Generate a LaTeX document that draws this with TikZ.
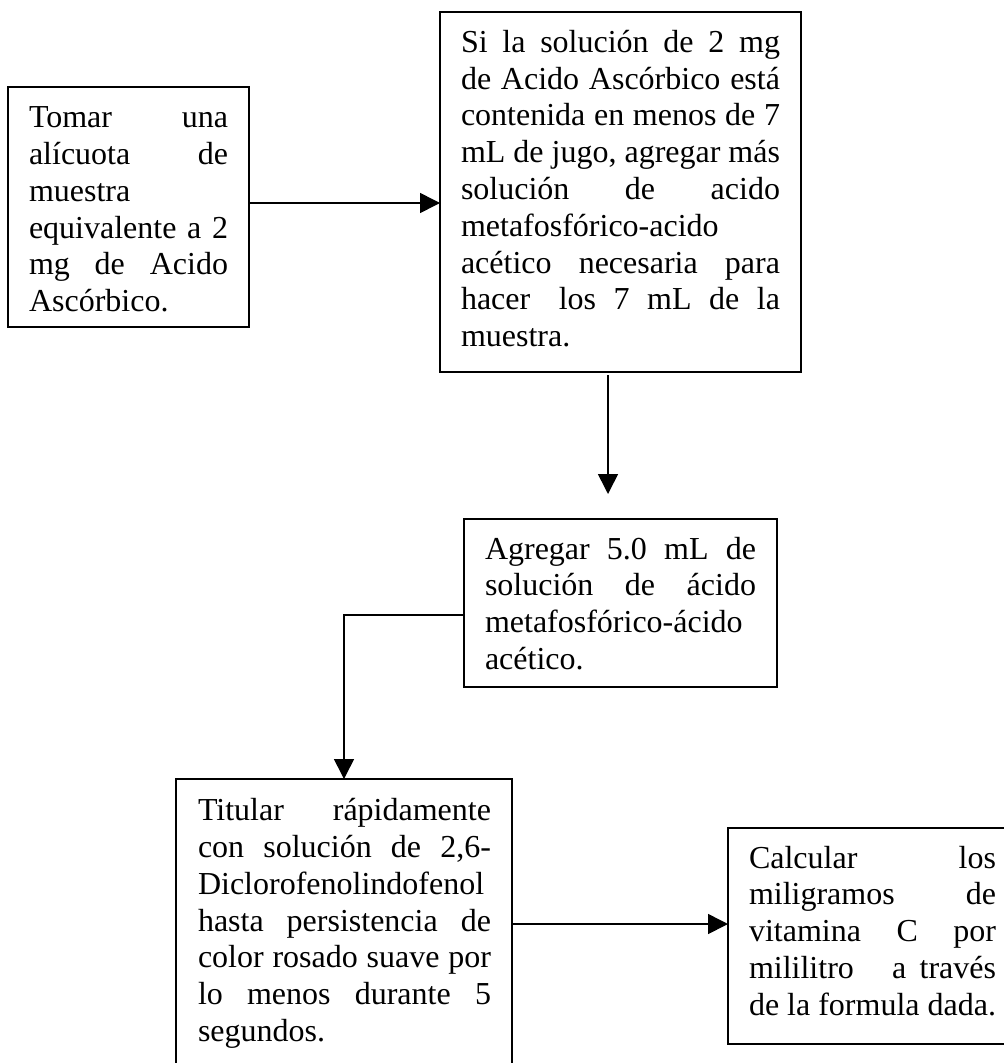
\documentclass[tikz,border=0pt]{standalone}
\usepackage{fontspec}
\setmainfont{Liberation Serif}
\usetikzlibrary{arrows.meta,calc}
\newcommand{\jline}[1]{\makebox[\linewidth][s]{\spaceskip=0.25em plus 1fil minus 0.1em\relax\xspaceskip=\spaceskip #1}}
\begin{document}
\begin{tikzpicture}[x=1pt,y=-1pt,
  box/.style={draw, line width=1.7pt, rectangle, inner sep=0pt, outer sep=0pt, anchor=north west},
  txt/.style={anchor=base west, inner sep=0pt, outer sep=0pt, align=justify, font=\fontsize{32}{36.8}\selectfont},
  arr/.style={line width=1.6pt, -{Triangle[length=20pt,width=20pt]}}]
\clip (0,0) rectangle (1004,1063);
\fill[white] (0,0) rectangle (1004,1063);
% boxes
\node[box, minimum width=241pt, minimum height=240pt] (b1) at (8,87) {};
\node[box, minimum width=361pt, minimum height=360pt] (b2) at (440,12) {};
\node[box, minimum width=313pt, minimum height=168pt] (b3) at (464,519) {};
\node[box, minimum width=336pt, minimum height=290pt] (b4) at (176,779) {};
\node[box, minimum width=310pt, minimum height=216pt] (b5) at (728,828) {};
% texts
\node[txt, text width=199pt] (t1) at (29,127.7) {%
\jline{Tomar una}\newline
\jline{alícuota de}\newline
muestra\newline
\jline{equivalente a 2}\newline
\jline{mg de Acido}\newline
Ascórbico.};
\node[txt, text width=319pt] (t2) at (461,52.3) {%
\jline{Si la solución de 2 mg}\newline
\jline{de Acido Ascórbico está}\newline
\jline{contenida en menos de 7}\newline
\jline{mL de jugo, agregar más}\newline
\jline{solución de acido}\newline
metafosfórico-acido\newline
\jline{acético necesaria para}\newline
\jline{hacer\hspace{11pt} los 7 mL de la}\newline
muestra.};
\node[txt, text width=271pt] (t3) at (485,559) {%
\jline{Agregar 5.0 mL de}\newline
\jline{solución de ácido}\newline
metafosfórico-ácido\newline
acético.};
\node[txt, text width=293pt] (t4) at (198,820.7) {%
\jline{Titular rápidamente}\newline
\jline{con solución de 2,6-}\newline
Diclorofenolindofenol\newline
\jline{hasta persistencia de}\newline
\jline{color rosado suave por}\newline
\jline{lo menos durante 5}\newline
segundos.};
\node[txt, text width=247pt] (t5) at (749,868) {%
\jline{Calcular los}\newline
\jline{miligramos de}\newline
\jline{vitamina C por}\newline
\jline{mililitro\hspace{25pt} a través}\newline
de la formula dada.};
% connectors
\coordinate (a2end) at (608,494);
\draw[arr] ([yshift=4pt]b1.east) -- ([yshift=4pt]b1.east -| b2.west);
\draw[arr] ([yshift=-3pt]a2end |- b2.south) -- (a2end);
\draw[arr] ([yshift=-12pt]b3.west) -| (b4.north);
\draw[arr] (b4.east) -- (b4.east -| b5.west);
\end{tikzpicture}
\end{document}
